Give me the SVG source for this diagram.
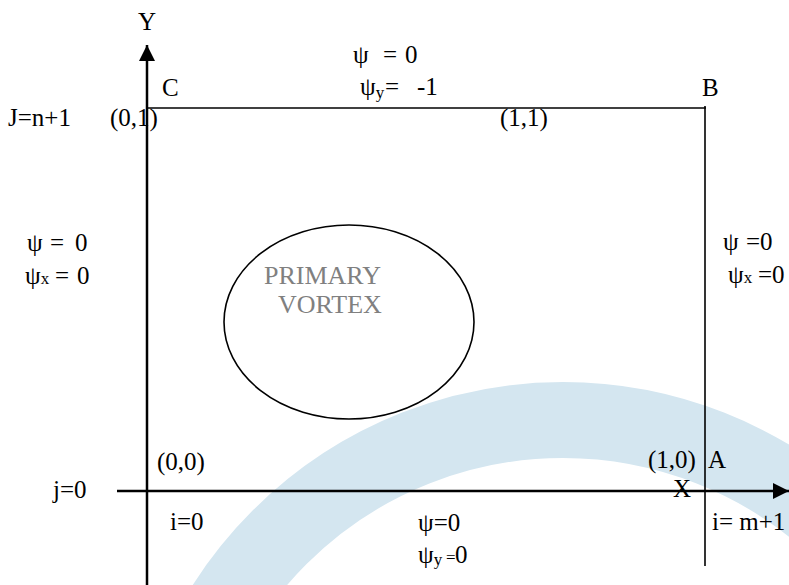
<svg xmlns="http://www.w3.org/2000/svg" width="789" height="585" viewBox="0 0 789 585">
<style>
text{font-family:"Liberation Serif","Times New Roman",serif;font-size:25px;fill:#000}
.sub{font-size:17px}
.vortex{font-size:26px;fill:#808080}
.axis{stroke:#000;stroke-width:2.5;fill:none}
.edge{stroke:#000;stroke-width:1.6;fill:none}
</style>
<defs>
<marker id="arr" viewBox="0 0 16 16" refX="16" refY="8" markerWidth="16" markerHeight="16" markerUnits="userSpaceOnUse" orient="auto">
<path d="M0,0 L16,8 L0,16 Z" fill="#000"/>
</marker>
</defs>
<rect width="789" height="585" fill="#fff"/>
<circle id="band" cx="563" cy="821" r="401" fill="none" stroke="#d4e6f0" stroke-width="76"/>
<g id="vortex">
<ellipse cx="349" cy="322" rx="125" ry="97" class="edge"/>
<text class="vortex" x="264" y="284">PRIMARY</text>
<text class="vortex" x="278" y="313">VORTEX</text>
</g>
<g id="connectors">
<line class="axis" x1="147" y1="585" x2="147" y2="45" marker-end="url(#arr)"/>
<line class="axis" x1="117" y1="491" x2="789" y2="491" marker-end="url(#arr)"/>
<line class="edge" x1="147" y1="108" x2="706" y2="108"/>
<line class="edge" x1="705" y1="106" x2="705" y2="566"/>
</g>
<g id="labels">
<text x="138" y="30">Y</text>
<text x="162" y="96">C</text>
<text x="702" y="96">B</text>
<text x="8" y="126">J=n+1</text>
<text x="110" y="126">(0,1)</text>
<text x="500" y="126">(1,1)</text>
<text x="353" y="63">ψ<tspan x="383">=</tspan><tspan x="405">0</tspan></text>
<text x="360" y="95">ψ<tspan class="sub" dy="3">y</tspan><tspan x="385" dy="-3">=</tspan><tspan x="417">-1</tspan></text>
<text x="27" y="251">ψ<tspan x="50">=</tspan><tspan x="75">0</tspan></text>
<text x="25" y="284">ψ<tspan class="sub">x</tspan><tspan x="55">=</tspan><tspan x="77">0</tspan></text>
<text x="723" y="250">ψ<tspan x="746">=0</tspan></text>
<text x="728" y="283">ψ<tspan class="sub">x</tspan><tspan x="758">=0</tspan></text>
<text x="157" y="470">(0,0)</text>
<text x="53" y="498">j=0</text>
<text x="170" y="530">i=0</text>
<text x="648" y="468">(1,0)</text>
<text x="708" y="468">A</text>
<text x="673" y="497">X</text>
<text x="712" y="530">i= m+1</text>
<text x="418" y="531">ψ=0</text>
<text x="418" y="563">ψ<tspan class="sub" dy="2">y</tspan><tspan class="sub" x="446" dy="-2">=</tspan><tspan x="455">0</tspan></text>
</g>
</svg>
